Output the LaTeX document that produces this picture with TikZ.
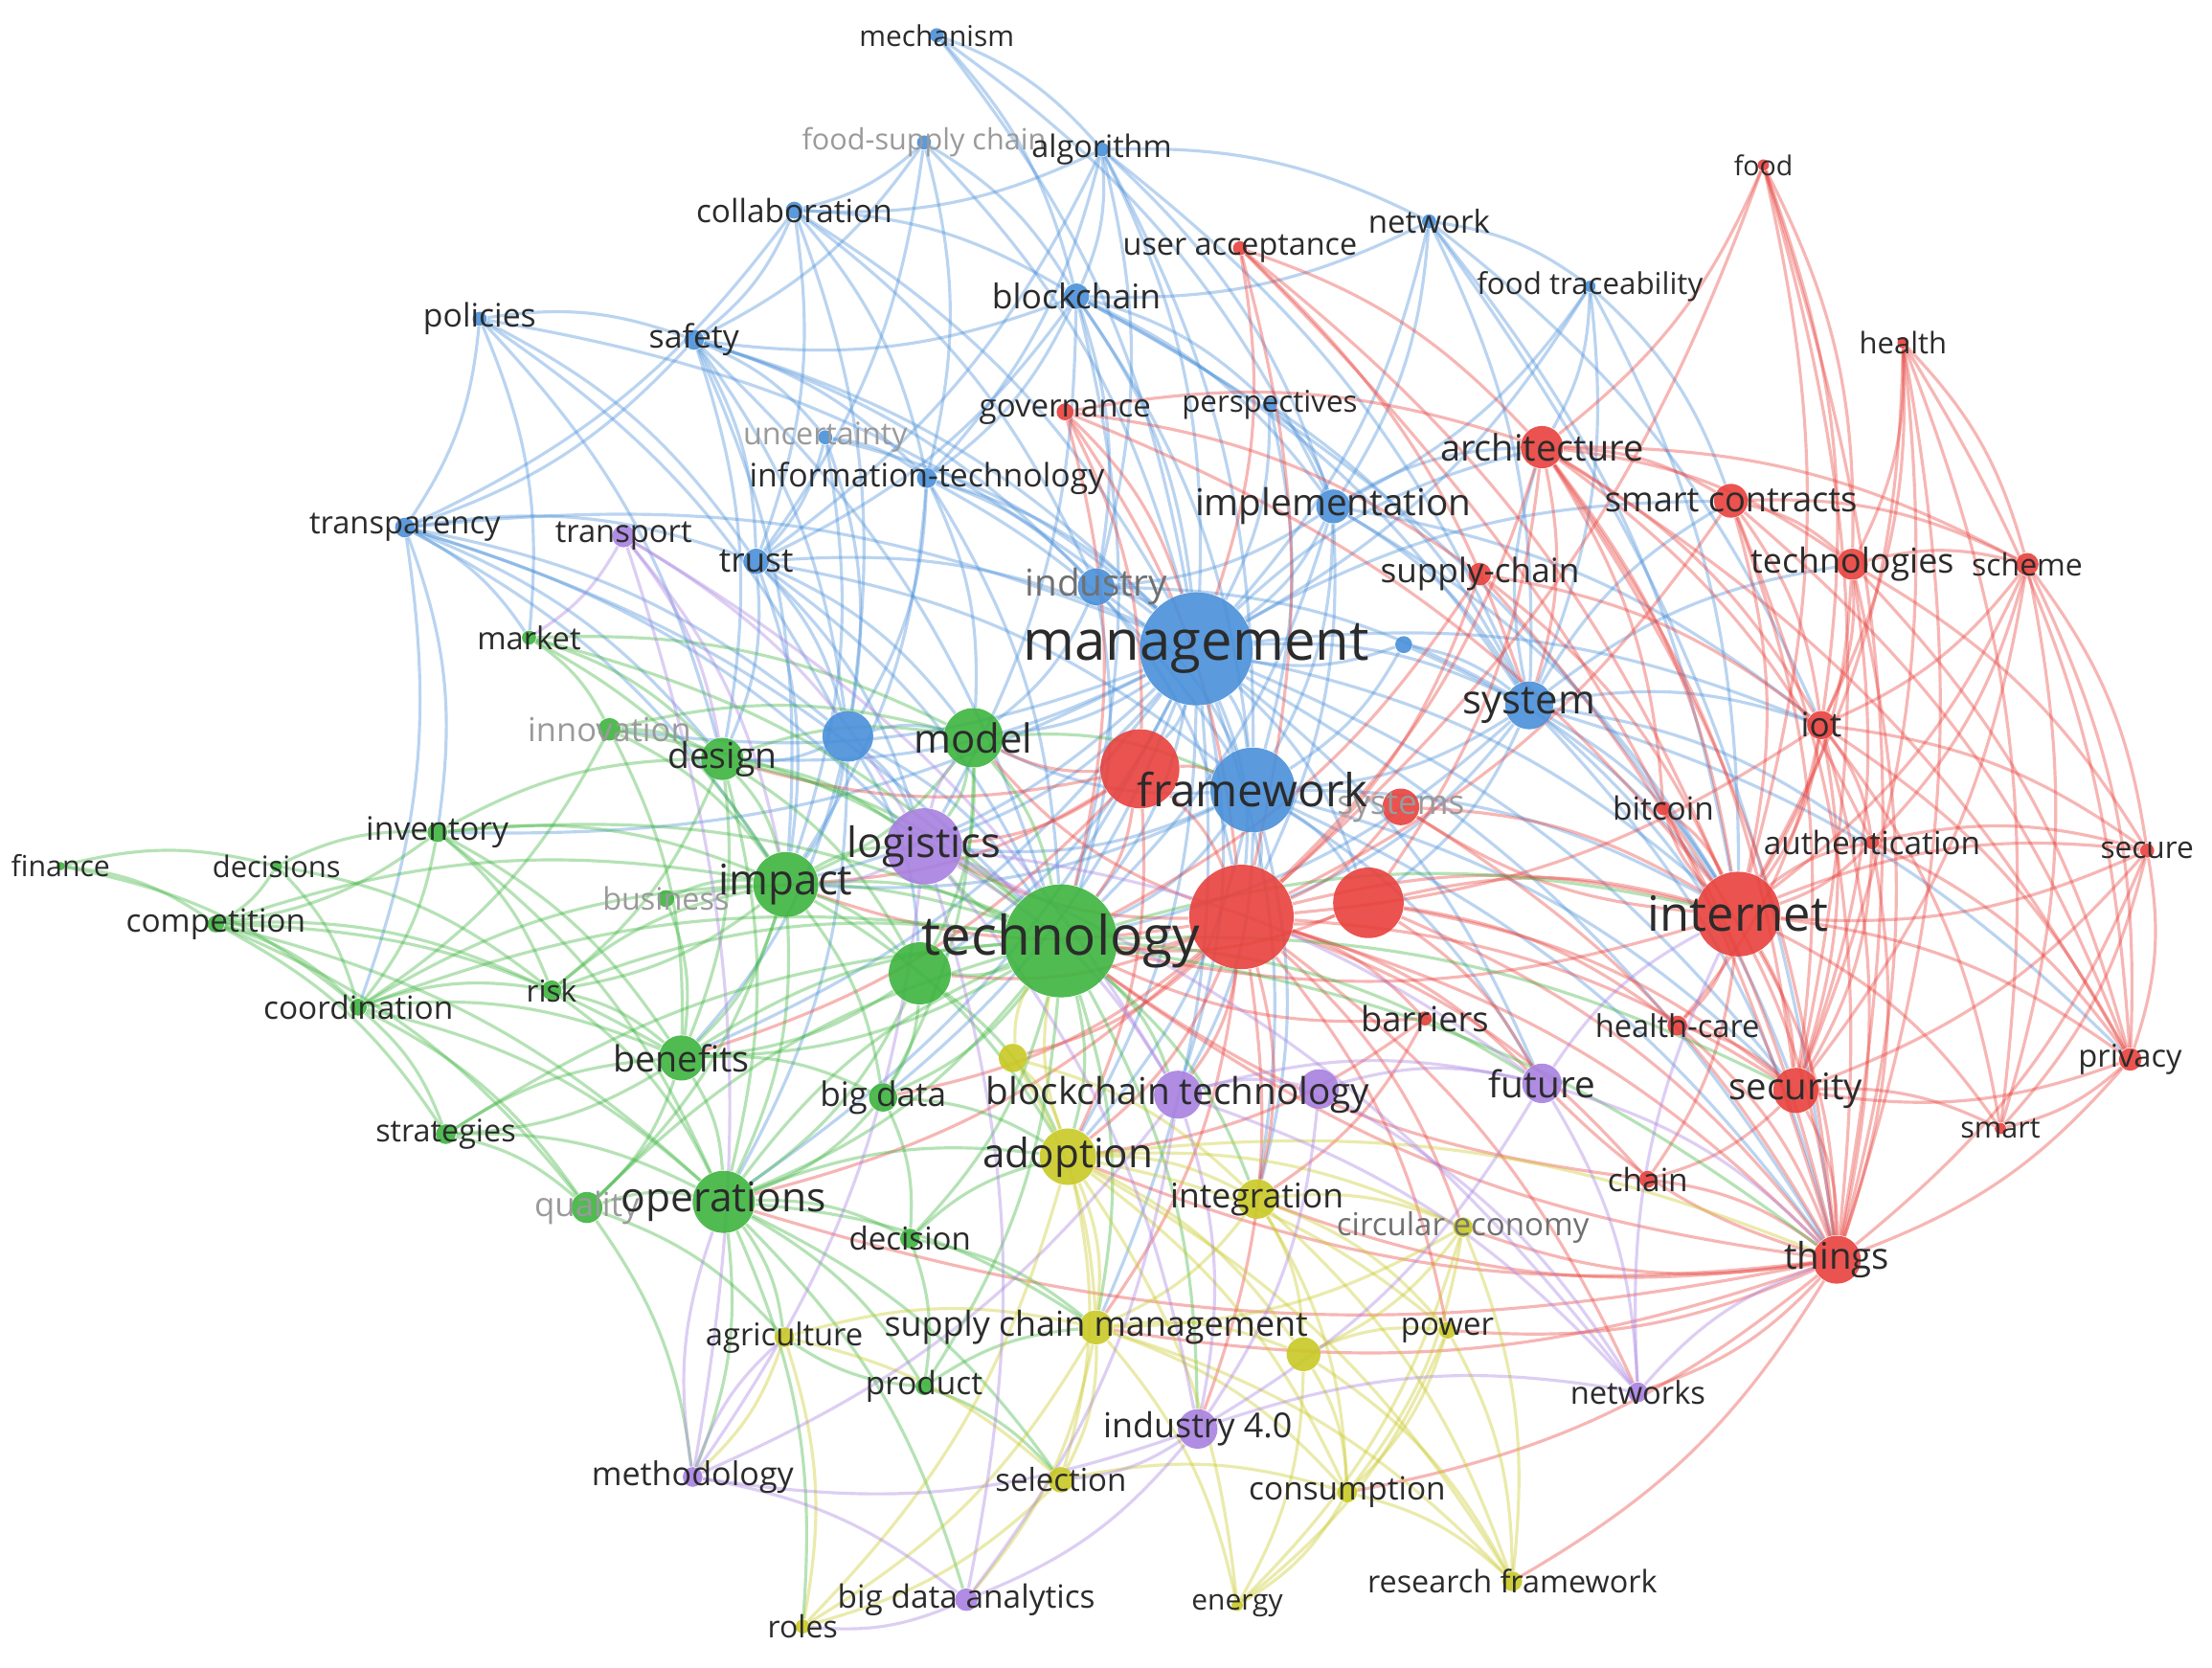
\documentclass[tikz,border=0pt]{standalone}
\usepackage{fontspec}
\setmainfont{Open Sans}
\usetikzlibrary{positioning}
\definecolor{cB}{HTML}{4A90D9}
\definecolor{cR}{HTML}{E8413C}
\definecolor{cG}{HTML}{3DB43F}
\definecolor{cY}{HTML}{C9C925}
\definecolor{cP}{HTML}{A880E0}
\definecolor{tx}{HTML}{2B2B2B}
\definecolor{tm}{HTML}{707070}
\definecolor{tf}{HTML}{9A9A9A}
\pgfdeclarelayer{bg}
\pgfdeclarelayer{fg}
\pgfsetlayers{bg,main,fg}
\tikzset{dot/.style={circle, inner sep=0pt, draw=none, fill opacity=0.9},
lbl/.style={inner sep=0pt, align=center},
edge/.style={line width=0.9pt, draw opacity=0.38},
eB/.style={edge, draw=cB}, eR/.style={edge, draw=cR}, eG/.style={edge, draw=cG},
eY/.style={edge, draw=cY}, eP/.style={edge, draw=cP}
}

\begin{document}
\begin{tikzpicture}[x=0.014732cm, y=-0.014732cm]
    \useasboundingbox (0,0) rectangle (1568,1182);
    % Nodes
    \foreach \n/\x/\y/\c/\r/\t/\f/\k in {
      mech/664/25/cB/5/mechanism/8.5/tx, fsc/655/101/cB/5/{food-supply chain}/8.7/tf,
      algo/781/106/cB/5/algorithm/9.2/tx, collab/563/149/cB/6/collaboration/9.5/tx,
      netw/1013/157/cB/5/network/9.4/tx, ftrace/1127/203/cB/4/{food traceability}/8.9/tx,
      bchain/763/210/cB/9/blockchain/10.1/tx, policies/340/226/cB/5/policies/9.6/tx,
      safety/492/241/cB/7/safety/9.6/tx, persp/900/287/cB/5/perspectives/8.9/tx,
      uncert/585/310/cB/5/uncertainty/9.2/tf, infotech/657/339/cB/7/information-technology/9.6/tx,
      impl/945/359/cB/12/implementation/11/tx, transp/287/374/cB/7/transparency/9.3/tx,
      trust/536/398/cB/9/trust/10/tx, industry/777/416/cB/13/industry/11/tm,
      bx1/995/457/cB/6/{}/9/tx, system/1084/500/cB/17/system/11.9/tx,
      bx2/601/522/cB/18/{}/9/tx,
      food/1250/117/cR/4/food/8.1/tx, health/1349/243/cR/4/health/8.8/tx,
      useracc/879/176/cR/5/{user acceptance}/9.2/tx, gov/755/292/cR/6/governance/9.4/tx,
      arch/1093/317/cR/15/architecture/10.8/tx, smartc/1227/355/cR/12/{smart contracts}/10.3/tx,
      supchain/1049/407/cR/8/supply-chain/10/tx, techs/1313/400/cR/11/technologies/10.2/tx,
      scheme/1437/400/cR/8/scheme/9.1/tx, iot/1291/514/cR/10/iot/10/tx,
      rx1/808/545/cR/28/{}/9/tx, systems/993/572/cR/13/systems/10/tf,
      bitcoin/1179/573/cR/5/bitcoin/9.5/tx, auth/1327/597/cR/5/authentication/9.5/tx,
      secure/1522/603/cR/5/secure/9/tx, rx2/970/640/cR/25/{}/9/tx,
      rbig/880/650/cR/37/{}/9/tx, internet/1232/648/cR/30/internet/14.4/tx,
      hcare/1189/727/cR/7/health-care/9.3/tx, barriers/1010/722/cR/5/barriers/10.3/tx,
      privacy/1510/751/cR/8/privacy/9.3/tx, security/1273/773/cR/16/security/10.9/tx,
      smart/1418/800/cR/4/smart/8.7/tx, chain/1168/836/cR/6/chain/9.5/tx,
      things/1302/893/cR/17/things/10.9/tx,
      finance/43/614/cG/3/finance/8.6/tx, decisions/196/614/cG/4/decisions/8.8/tx,
      inventory/310/590/cG/7/inventory/9.6/tx, compet/153/655/cG/6/competition/9.5/tx,
      market/375/452/cG/5/market/9.3/tx, innov/432/517/cG/8/innovation/9.8/tf,
      design/512/538/cG/15/design/10.6/tx, model/690/523/cG/21/model/11.9/tx,
      business/472/637/cG/6/business/9.2/tf, impact/557/627/cG/23/impact/12.5/tx,
      coord/254/714/cG/6/coordination/9.5/tx, risk/391/702/cG/7/risk/9/tx,
      gx1/652/690/cG/22/{}/9/tx, benefits/483/750/cG/16/benefits/10.7/tx,
      bigdata/626/778/cG/10/{big data}/10/tx, strat/316/804/cG/7/strategies/9.2/tx,
      quality/416/856/cG/11/quality/9.9/tf, ops/513/852/cG/22/operations/12.1/tx,
      decision/645/878/cG/7/decision/9.4/tx, product/655/983/cG/6/product/9.5/tx,
      tech/752/667/cG/40/technology/16.1/tx,
      yx1/718/750/cY/10/{}/9/tx, adoption/757/820/cY/20/adoption/12/tx,
      integ/891/850/cY/14/integration/10.1/tx, circ/1037/870/cY/7/{circular economy}/9.4/tm,
      agri/556/948/cY/7/agriculture/9.3/tx, scm/777/941/cY/12/{supply chain management}/10.2/tx,
      yx2/924/960/cY/12/{}/9/tx, power/1026/943/cY/6/power/9.4/tx,
      select/752/1049/cY/9/selection/9.4/tx, consum/955/1058/cY/7/consumption/9.5/tx,
      roles/569/1153/cY/5/roles/9.1/tx, energy/877/1138/cY/4/energy/8.5/tx,
      resfw/1072/1121/cY/7/{research framework}/9.2/tx,
      transport/442/380/cP/8/transport/9.3/tx, logistics/655/600/cP/27/logistics/12.4/tx,
      bctech/835/776/cP/17/{blockchain technology}/11/tx, px1/935/772/cP/14/{}/9/tx,
      future/1093/768/cP/14/future/11/tx, ind40/849/1013/cP/14/{industry 4.0}/10.2/tx,
      networks/1161/987/cP/7/networks/9.3/tx, method/491/1047/cP/7/methodology/9.7/tx,
      bda/685/1134/cP/8/{big data analytics}/9.5/tx,
      frame/888/560/cB/30/framework/13.5/tx, mgmt/848/460/cB/40/management/16.5/tx} {
      \node [dot, fill=\c, minimum size=\r*0.029464cm] (\n) at (\x,\y) {};
      \begin{pgfonlayer}{fg}
        \node [lbl, text=\k, font=\fontsize{\f}{\f}\selectfont] (\n-l) at (\x,\y) {\t};
      \end{pgfonlayer}
    }
    % Links
    \begin{pgfonlayer}{bg}
    \fill [white] (0,0) rectangle (1568,1182);
    \foreach \s/\ts in {mech/{algo,bchain,impl,mgmt}, fsc/{safety,collab,infotech,mgmt,trust,bchain},
      algo/{mgmt,bchain,impl,industry,system,netw,frame,infotech,trust,collab},
      collab/{safety,mgmt,bchain,trust,infotech,industry,bx2,transp},
      netw/{system,impl,mgmt,bchain,things,internet,iot,ftrace},
      ftrace/{system,impl,mgmt,arch,smartc,internet},
      bchain/{mgmt,impl,system,industry,frame,trust,infotech,safety,persp,tech,logistics,internet},
      policies/{transp,safety,trust,mgmt,bx2,design,market},
      safety/{mgmt,trust,transp,bx2,infotech,industry,tech,impact,design,uncert},
      persp/{mgmt,impl,system,frame}, uncert/{mgmt,trust,bx2,impact,infotech},
      infotech/{mgmt,industry,frame,tech,bx2,model,impact},
      impl/{mgmt,system,frame,industry,tech,rbig,internet,arch,iot},
      transp/{trust,bx2,market,mgmt,tech,design,inventory,impact,coord,logistics},
      trust/{mgmt,bx2,tech,impact,design,model,logistics,frame},
      industry/{mgmt,frame,tech,system,model,rbig},
      mgmt/{frame,tech,rbig,system,model,logistics,impact,rx1,rx2,internet,adoption,ops,design,benefits,security,things,bctech,integ,scm,future,arch,smartc,iot,gx1,bigdata,innov,inventory},
      bx1/{mgmt,system,frame,internet},
      system/{internet,things,iot,security,rbig,frame,tech,rx2,arch,techs,smartc,auth,privacy},
      bx2/{tech,impact,model,design,logistics,gx1,ops,benefits},
      frame/{tech,rbig,internet,adoption,things,security,bctech,integ,logistics,future,rx2,model,impact}}
      {\foreach \t in \ts {\draw [eB] (\s) to [bend left=14] (\t);}}
    \foreach \s/\ts in {food/{internet,techs,arch,iot,things,rbig,security},
      health/{internet,iot,techs,scheme,privacy,things,security,smart},
      useracc/{internet,arch,rbig,mgmt,things,system},
      gov/{rbig,tech,rx1,internet,mgmt,arch,supchain},
      arch/{internet,iot,smartc,techs,things,security,rbig,rx2,system,scheme,auth,privacy,bitcoin},
      smartc/{internet,iot,things,security,techs,rbig,scheme,privacy},
      supchain/{internet,rbig,tech,iot,things},
      techs/{internet,iot,things,security,scheme,privacy,secure},
      scheme/{internet,iot,security,privacy,secure,auth,smart},
      iot/{internet,things,security,privacy,secure,rbig,auth,hcare,smart},
      rx1/{tech,rbig,logistics,model,impact,adoption,frame,design,benefits},
      systems/{internet,rbig,things}, bitcoin/{internet,things},
      auth/{internet,security,privacy,secure,things},
      secure/{internet,privacy,things,security,smart},
      rx2/{internet,rbig,things,security,tech,future,hcare},
      rbig/{internet,tech,things,security,adoption,logistics,impact,ops,scm,integ,bctech,future,chain,barriers,circ,power,networks,ind40,model,gx1,bigdata,yx1},
      internet/{things,security,privacy,smart,hcare,chain,tech,secure,systems,bitcoin,auth},
      hcare/{things,security}, barriers/{tech,adoption,integ},
      privacy/{things,security,smart}, security/{things,chain,smart}, chain/{things,tech},
      things/{tech,adoption,ops,scm,integ,networks,power,circ,resfw,consum,future}}
      {\foreach \t in \ts {\draw [eR] (\s) to [bend left=14] (\t);}}
    \foreach \s/\ts in {finance/{compet,decisions,coord}, decisions/{compet,coord,inventory,risk},
      inventory/{compet,coord,impact,design,risk,ops,benefits,tech},
      compet/{coord,strat,impact,ops,benefits,risk,quality},
      market/{design,impact,innov,tech,model},
      innov/{design,impact,tech,benefits,model,coord},
      design/{tech,impact,model,benefits,ops,gx1,logistics,risk},
      model/{tech,impact,gx1,logistics,bigdata,frame}, business/{impact,tech,benefits},
      impact/{tech,gx1,ops,benefits,logistics,bigdata,adoption,risk,quality},
      coord/{ops,benefits,risk,strat,quality,impact,tech}, risk/{tech,ops,benefits,impact},
      tech/{gx1,logistics,adoption,bctech,ops,benefits,bigdata,scm,integ,decision,product,internet,security,things,ind40,future},
      gx1/{ops,benefits,adoption,bigdata}, benefits/{ops,tech,bigdata,strat,quality},
      bigdata/{ops,adoption,decision}, strat/{ops,quality,tech,benefits},
      quality/{ops,tech,agri,method},
      ops/{tech,agri,product,decision,scm,adoption,method,bda,roles,select},
      decision/{scm,product,adoption}, product/{scm,select,agri}}
      {\foreach \t in \ts {\draw [eG] (\s) to [bend left=14] (\t);}}
    \foreach \s/\ts in {yx1/{adoption,tech,scm,integ},
      adoption/{scm,integ,select,consum,resfw,energy,roles,yx2,circ,power,tech,things},
      integ/{scm,circ,power,yx2,consum,resfw}, circ/{scm,yx2,consum,energy,resfw},
      agri/{scm,roles,select,method}, scm/{select,roles,consum,energy,yx2,resfw,bda},
      yx2/{consum,resfw,energy,power}, power/{resfw,consum,energy},
      select/{roles,consum}, consum/{energy,resfw}}
      {\foreach \t in \ts {\draw [eY] (\s) to [bend left=14] (\t);}}
    \foreach \s/\ts in {transport/{logistics,impact,design,bctech,method,market},
      logistics/{tech,bctech,ind40,future,method,bda,networks,impact,model},
      bctech/{ind40,future,bda,networks,px1,method}, px1/{future,ind40,networks},
      future/{ind40,networks,internet,things}, ind40/{bda,method,networks,select},
      networks/{things,internet}, method/{bda,ops,agri}, bda/{roles}}
      {\foreach \t in \ts {\draw [eP] (\s) to [bend left=14] (\t);}}
    \end{pgfonlayer}
\end{tikzpicture}
\end{document}
